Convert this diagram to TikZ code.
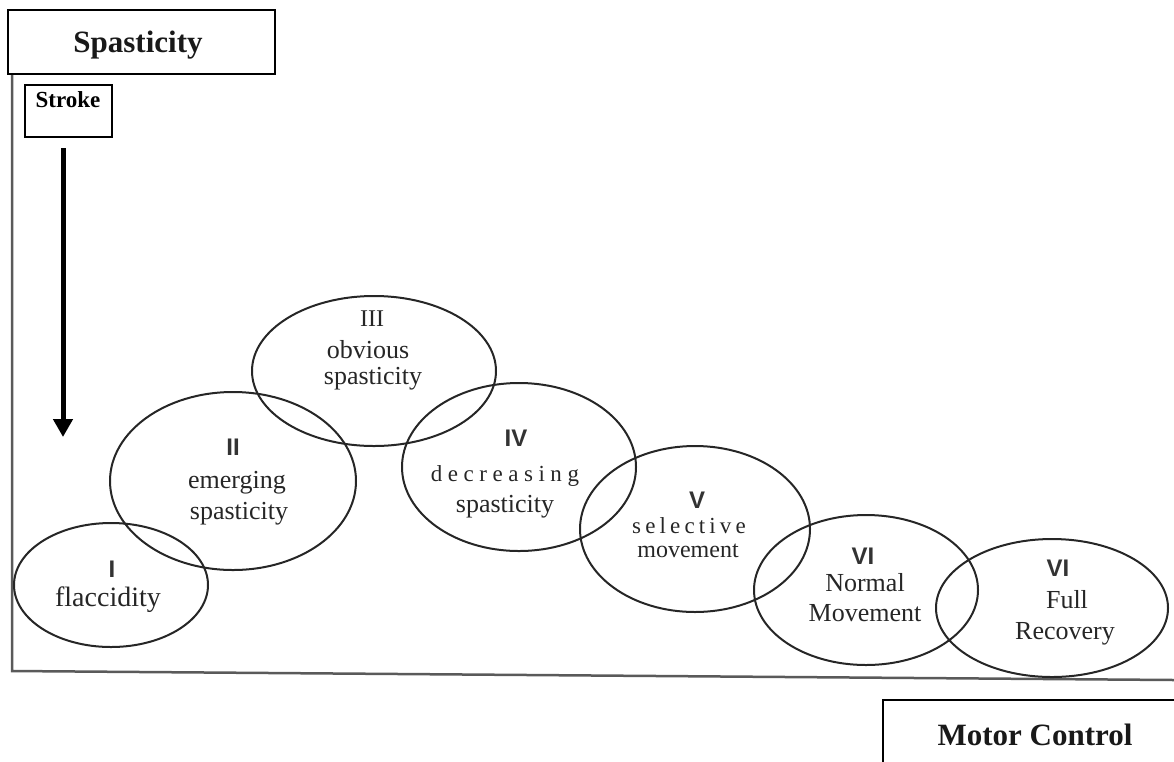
\documentclass[tikz,border=0pt]{standalone}
\usepackage{fontspec}
\setmainfont{Liberation Serif}
\newfontfamily\numfont{Liberation Sans}
\usepackage{tikz}
\usetikzlibrary{arrows.meta}
\definecolor{axisgray}{RGB}{90, 90, 90}
\tikzset{
	stage/.style={line width=2pt, black!85},
	txt/.style={font=\fontsize{26}{28}\selectfont, text=black!85, inner sep=0pt},
	num/.style={font=\numfont\bfseries\fontsize{24}{26}\selectfont, text=black!80, inner sep=0pt},
	title/.style={font=\bfseries\fontsize{31}{34}\selectfont, text=black!90, inner sep=0pt}
}

\begin{document}
\begin{tikzpicture}[x=1pt, y=-1pt]
	\useasboundingbox (0,0) rectangle (1174,761);
	% axes
	\draw[axisgray, line width=2.5pt] (12,74) -- (12,671) -- (1174,680);
	\draw[line width=2pt] (8,10) rectangle (275,74);
	\node[title] (spast) at (138,45) {Spasticity};
	\draw[line width=2pt] (25,85) rectangle (112,137);
	\node[font=\bfseries\fontsize{23}{25}\selectfont, inner sep=0pt] (stroke) at (68,100) {Stroke};
	\coordinate (atop) at (63,148);
	\coordinate (abot) at (63,437);
	\draw[line width=5pt, -{Triangle[length=18pt, width=19pt]}] (atop) -- (abot);
	\draw[line width=2pt] (1180,700) -| (883,770);
	\node[title] (motor) at (1035,735) {Motor Control};
	% stages
	\draw[stage] (111,585) ellipse (97 and 62);
	\draw[stage] (233,481) ellipse (123 and 89);
	\draw[stage] (374,371) ellipse (122 and 75);
	\draw[stage] (519,467) ellipse (117 and 84);
	\draw[stage] (695,529) ellipse (115 and 83);
	\draw[stage] (866,590) ellipse (112 and 75);
	\draw[stage] (1052,608) ellipse (116 and 69);
	\node[num] (n1) at (112,569) {I};
	\node[txt, font=\fontsize{28}{30}\selectfont] (t1) at (108,600) {flaccidity};
	\node[num] (n2) at (233,447) {II};
	\node[txt] (t2a) at (237,483) {emerging};
	\node[txt] (t2b) at (239,514) {spasticity};
	\node[txt, font=\fontsize{24}{26}\selectfont] (n3) at (372,319) {III};
	\node[txt] (t3a) at (368,350) {obvious};
	\node[txt] (t3b) at (373,379) {spasticity};
	\node[num] (n4) at (516,438) {IV};
	\node[txt, font=\addfontfeature{LetterSpace=24}\fontsize{23}{25}\selectfont] (t4a) at (505,476) {decreasing};
	\node[txt] (t4b) at (505,507) {spasticity};
	\node[num] (n5) at (697,500) {V};
	\node[txt, font=\addfontfeature{LetterSpace=18}\fontsize{23}{25}\selectfont] (t5a) at (689,526) {selective};
	\node[txt, font=\fontsize{24}{26}\selectfont] (t5b) at (688,551) {movement};
	\node[num] (n6) at (863,556) {VI};
	\node[txt] (t6a) at (865,583) {Normal};
	\node[txt] (t6b) at (865,613) {Movement};
	\node[num] (n7) at (1058,568) {VI};
	\node[txt] (t7a) at (1067,600) {Full};
	\node[txt] (t7b) at (1065,634) {Recovery};
\end{tikzpicture}
\end{document}
